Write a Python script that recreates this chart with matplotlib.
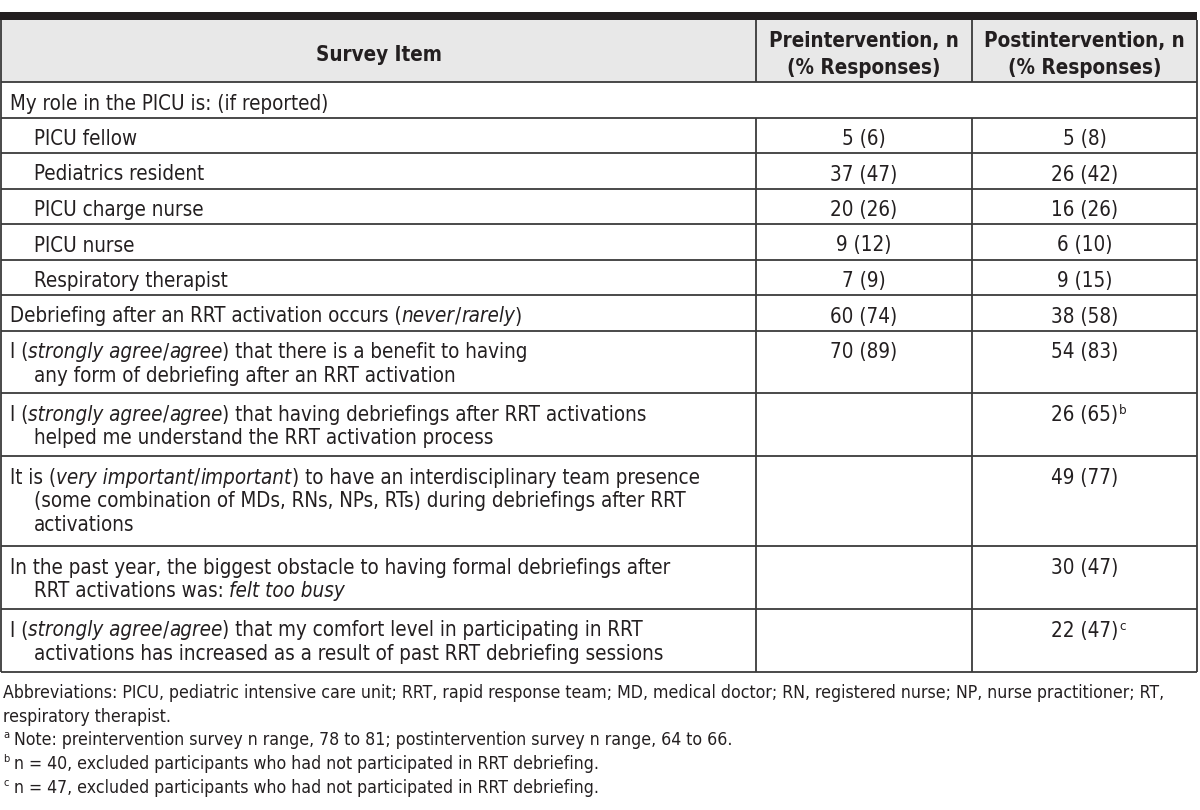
import matplotlib.pyplot as plt

plt.rcParams['font.family'] = ['DejaVu Sans']
plt.rcParams['font.stretch'] = 'condensed'

TXT = '#231f20'
LINE = '#3a3a3a'
HEAD_BG = '#e8e8e8'

headers = ['Survey Item', 'Preintervention, n\n(% Responses)', 'Postintervention, n\n(% Responses)']

# *...* marks italic text, \n a line break inside the cell
items = [
    'My role in the PICU is: (if reported)',
    'PICU fellow',
    'Pediatrics resident',
    'PICU charge nurse',
    'PICU nurse',
    'Respiratory therapist',
    'Debriefing after an RRT activation occurs (*never*/*rarely*)',
    'I (*strongly agree*/*agree*) that there is a benefit to having\nany form of debriefing after an RRT activation',
    'I (*strongly agree*/*agree*) that having debriefings after RRT activations\nhelped me understand the RRT activation process',
    'It is (*very important*/*important*) to have an interdisciplinary team presence\n'
    '(some combination of MDs, RNs, NPs, RTs) during debriefings after RRT\nactivations',
    'In the past year, the biggest obstacle to having formal debriefings after\nRRT activations was: *felt too busy*',
    'I (*strongly agree*/*agree*) that my comfort level in participating in RRT\n'
    'activations has increased as a result of past RRT debriefing sessions',
]
sub_item = [False, True, True, True, True, True, False, False, False, False, False, False]
pre = ['', '5 (6)', '37 (47)', '20 (26)', '9 (12)', '7 (9)', '60 (74)', '70 (89)', '', '', '', '']
post = ['', '5 (8)', '26 (42)', '16 (26)', '6 (10)', '9 (15)', '38 (58)', '54 (83)',
        '26 (65)', '49 (77)', '30 (47)', '22 (47)']
post_note = ['', '', '', '', '', '', '', '', 'b', '', '', 'c']

footnotes = [
    ('', 'Abbreviations: PICU, pediatric intensive care unit; RRT, rapid response team; MD, medical doctor; '
         'RN, registered nurse; NP, nurse practitioner; RT,'),
    ('', 'respiratory therapist.'),
    ('a', 'Note: preintervention survey n range, 78 to 81; postintervention survey n range, 64 to 66.'),
    ('b', 'n = 40, excluded participants who had not participated in RRT debriefing.'),
    ('c', 'n = 47, excluded participants who had not participated in RRT debriefing.'),
]

fig = plt.figure(figsize=(12, 8.1), dpi=100)
ax = fig.add_axes([0, 0, 1, 1])
ax.set_xlim(0, 1200)
ax.set_ylim(810, 0)
ax.axis('off')

FS = 14.8
FS_NOTE = 12.7
x_left, x_c1, x_c2, x_right = 1, 756, 972, 1197
col_mid = [(x_left + x_c1) / 2, (x_c1 + x_c2) / 2, (x_c2 + x_right) / 2]
head_top, head_bot = 20, 82


def draw_line(x, y, line, size):
    prev = None
    gap = 0
    for k, seg in enumerate(line.split('*')):
        if not seg:
            continue
        style = 'italic' if k % 2 else 'normal'
        if seg.startswith(' '):
            gap += 5
        seg_s = seg.strip(' ') if prev is not None else seg.rstrip(' ')
        if prev is None:
            prev = ax.text(x, y, seg_s, fontsize=size, style=style, color=TXT,
                           ha='left', va='baseline')
        else:
            prev = ax.annotate(seg_s, xy=(1, 0), xycoords=prev, xytext=(gap, 0),
                               textcoords='offset pixels', fontsize=size, style=style,
                               color=TXT, ha='left', va='bottom')
        gap = 5 if seg.endswith(' ') else 0
    return prev


# header
ax.add_patch(plt.Rectangle((x_left, head_top), x_right - x_left, head_bot - head_top,
                           facecolor=HEAD_BG, edgecolor='none'))
ax.add_patch(plt.Rectangle((0, 12), x_right, 8, facecolor=TXT, edgecolor='none'))
for j, h in enumerate(headers):
    lines = h.split('\n')
    y0 = (head_top + head_bot) / 2 + 4 - 13.5 * (len(lines) - 1)
    for i, ln in enumerate(lines):
        ax.text(col_mid[j], y0 + 27 * i, ln, fontsize=FS, fontweight='bold', color=TXT,
                ha='center', va='center')

# body rows
top = head_bot
row_edges = [top]
for i, item in enumerate(items):
    lines = item.split('\n')
    h = 35.5 + 27.3 * (len(lines) - 1)
    base = top + 27.5
    x0 = 34 if sub_item[i] else 10
    for k, ln in enumerate(lines):
        draw_line(x0 if k == 0 else 34, base + 23.5 * k, ln, FS)
    if pre[i]:
        ax.text(col_mid[1], base, pre[i], fontsize=FS, color=TXT, ha='center', va='baseline')
    if post[i]:
        t = ax.text(col_mid[2], base, post[i], fontsize=FS, color=TXT, ha='center', va='baseline')
        if post_note[i]:
            ax.annotate(post_note[i], xy=(1, 1), xycoords=t, xytext=(1, 1),
                        textcoords='offset pixels', fontsize=9.5, color=TXT,
                        ha='left', va='top')
    top += h
    row_edges.append(top)

lw = 1.3
ax.hlines(row_edges, x_left, x_right, color=LINE, lw=lw)
ax.vlines([x_left, x_right], head_top, row_edges[-1], color=LINE, lw=lw)
ax.vlines([x_c1, x_c2], head_top, head_bot, color=LINE, lw=lw)
ax.vlines([x_c1, x_c2], row_edges[1], row_edges[-1], color=LINE, lw=lw)

# footnotes
fy = row_edges[-1] + 26
for mark, note in footnotes:
    if mark:
        ax.text(3, fy - 7, mark, fontsize=8, color=TXT, ha='left', va='baseline')
        ax.text(14, fy, note, fontsize=FS_NOTE, color=TXT, ha='left', va='baseline')
    else:
        ax.text(3, fy, note, fontsize=FS_NOTE, color=TXT, ha='left', va='baseline')
    fy += 23.7

fig.savefig('out.png', dpi=100)
